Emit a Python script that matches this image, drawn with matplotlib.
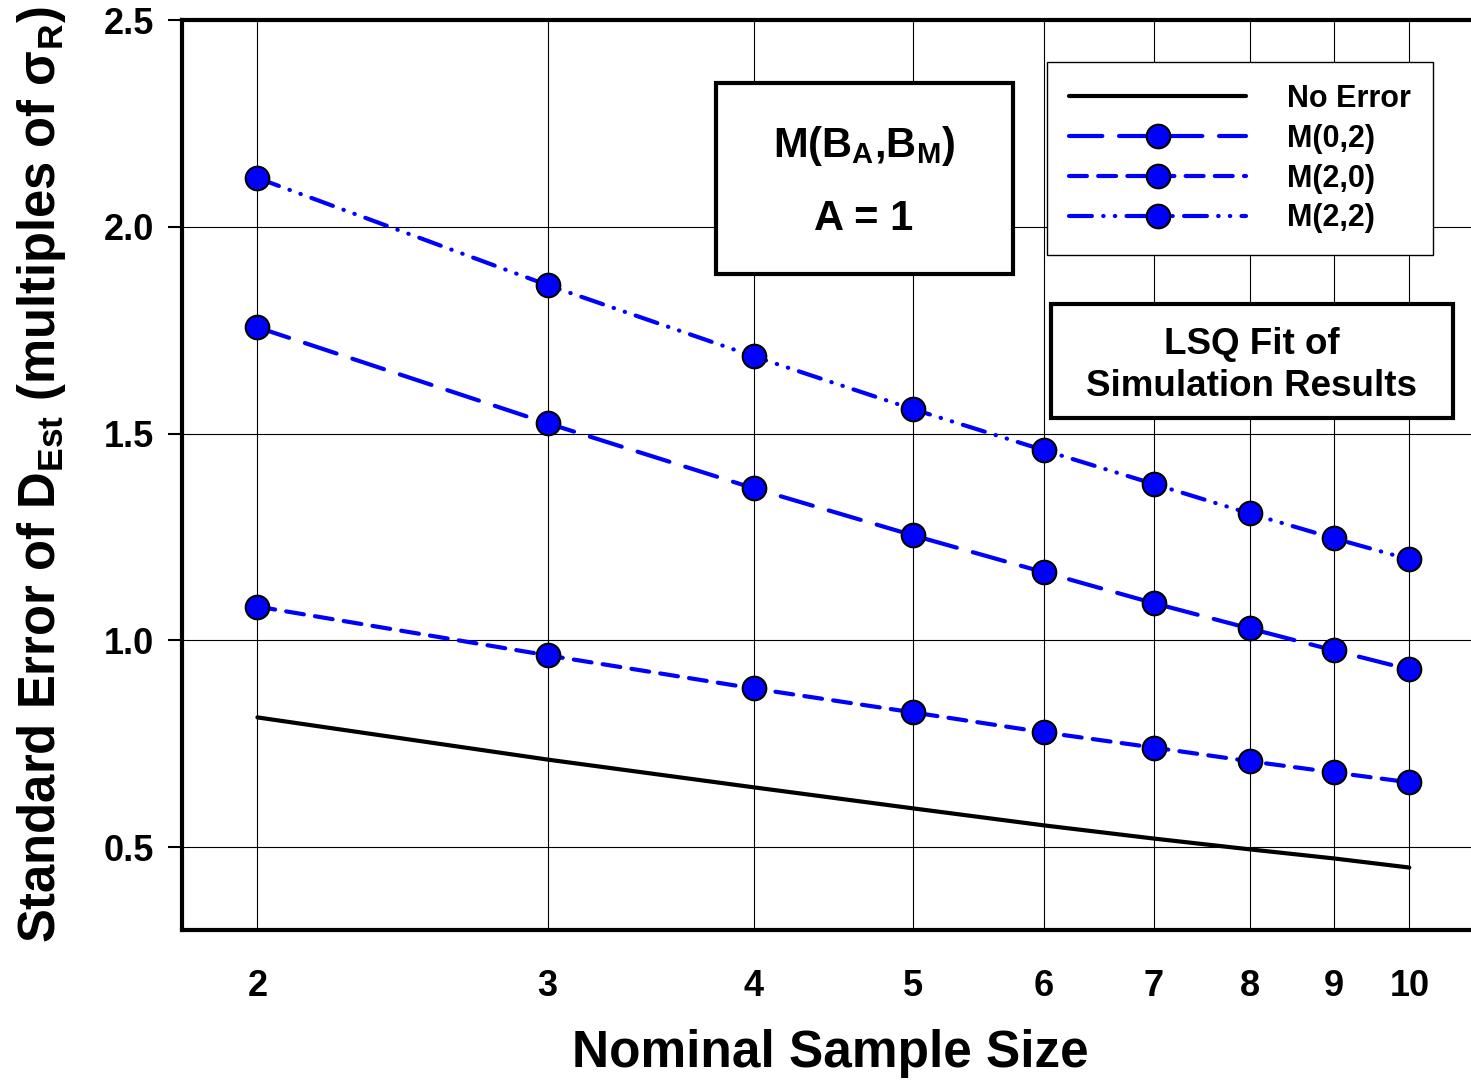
import matplotlib
matplotlib.use("Agg")
import matplotlib.pyplot as plt
from matplotlib.patches import Rectangle
from matplotlib.ticker import FixedLocator, NullFormatter

plt.rcParams['font.family'] = ['Liberation Sans', 'DejaVu Sans']
plt.rcParams['font.weight'] = 'bold'
plt.rcParams['mathtext.fontset'] = 'custom'
plt.rcParams['mathtext.bf'] = 'Liberation Sans:bold'
plt.rcParams['mathtext.rm'] = 'Liberation Sans:bold'

# data
sample_size = [2, 3, 4, 5, 6, 7, 8, 9, 10]
no_error = [0.814, 0.712, 0.645, 0.594, 0.553, 0.521, 0.495, 0.473, 0.451]
m_0_2 = [1.757, 1.525, 1.368, 1.254, 1.165, 1.090, 1.029, 0.976, 0.930]
m_2_0 = [1.082, 0.964, 0.884, 0.826, 0.778, 0.741, 0.708, 0.681, 0.657]
m_2_2 = [2.118, 1.859, 1.687, 1.559, 1.460, 1.378, 1.307, 1.247, 1.196]
y_ticks = [0.5, 1.0, 1.5, 2.0, 2.5]

fig = plt.figure(figsize=(14.71, 10.8), dpi=100)
ax = fig.add_axes([182 / 1471, 1 - 930 / 1080, 1 - 182 / 1471, (930 - 20) / 1080])

blue = '#0000FF'
mk = dict(marker='o', markersize=17, markerfacecolor=blue,
          markeredgecolor='black', markeredgewidth=1.5)

ax.plot(sample_size, no_error, color='black', lw=3, label='No Error',
        solid_capstyle='round', zorder=3)
ax.plot(sample_size, m_0_2, color=blue, lw=3, dashes=(8, 4), dash_capstyle='round',
        label='M(0,2)', zorder=3, **mk)
ax.plot(sample_size, m_2_0, color=blue, lw=3, dashes=(4.3, 2.7), dash_capstyle='round',
        label='M(2,0)', zorder=3, **mk)
ax.plot(sample_size, m_2_2, color=blue, lw=3, dashes=(5.5, 2.7, 0.1, 2.7, 0.1, 2.7),
        dash_capstyle='round', label='M(2,2)', zorder=3, **mk)

ax.set_xscale('log')
ax.set_xlim(1.8, 10.9)
ax.set_ylim(0.3, 2.5)

# x: labels at every sample size, only the decade gets a tick mark
ax.xaxis.set_major_locator(FixedLocator(sample_size))
ax.set_xticklabels([str(s) for s in sample_size])
ax.xaxis.set_minor_locator(FixedLocator([10]))
ax.xaxis.set_minor_formatter(NullFormatter())
ax.tick_params(axis='x', which='major', length=0, pad=28, labelsize=26)
ax.tick_params(axis='x', which='minor', length=10, width=1.5, direction='out')

ax.set_yticks(y_ticks)
ax.set_yticklabels([f'{v:.1f}' for v in y_ticks])
ax.tick_params(axis='y', length=10, width=1.5, direction='out', pad=10, labelsize=26)

ax.grid(True, which='major', color='black', lw=0.8)
ax.set_axisbelow(True)

for side in ['left', 'bottom', 'top']:
    ax.spines[side].set_linewidth(3)
ax.spines['right'].set_visible(False)

ax.set_xlabel('Nominal Sample Size', fontsize=37, fontweight='bold')
ax.xaxis.set_label_coords(0.503, -0.109)
ax.set_ylabel('Standard Error of D$_{\\mathbf{Est}}$ (multiples of σ$_{\\mathbf{R}}$)',
              fontsize=36.5, fontweight='bold')
ax.yaxis.set_label_coords(-0.0884, 0.5)

# annotation boxes
ax.add_patch(Rectangle((0.4143, 0.7209), 0.2304, 0.2099, transform=ax.transAxes,
                       facecolor='white', edgecolor='black', lw=3, zorder=4))
ax.text(0.529, 0.861, 'M(B$_{\\mathbf{A}}$,B$_{\\mathbf{M}}$)', transform=ax.transAxes,
        ha='center', va='center', fontsize=30, fontweight='bold', zorder=5)
ax.text(0.529, 0.781, 'A = 1', transform=ax.transAxes,
        ha='center', va='center', fontsize=30, fontweight='bold', zorder=5)

ax.add_patch(Rectangle((0.6742, 0.5626), 0.3118, 0.1253, transform=ax.transAxes,
                       facecolor='white', edgecolor='black', lw=3, zorder=4))
ax.text(0.830, 0.620, 'LSQ Fit of\nSimulation Results', transform=ax.transAxes,
        ha='center', va='center', fontsize=26.5, fontweight='bold', linespacing=1.25, zorder=5)

leg = ax.legend(loc='upper right', bbox_to_anchor=(0.9705, 0.9538), borderaxespad=0,
                fontsize=22, handlelength=5.8, handletextpad=1.34, labelspacing=0.32,
                fancybox=False, framealpha=1, edgecolor='black', borderpad=0.72)
leg.get_frame().set_linewidth(1)
leg.set_zorder(6)

fig.savefig('out.png', dpi=100)
